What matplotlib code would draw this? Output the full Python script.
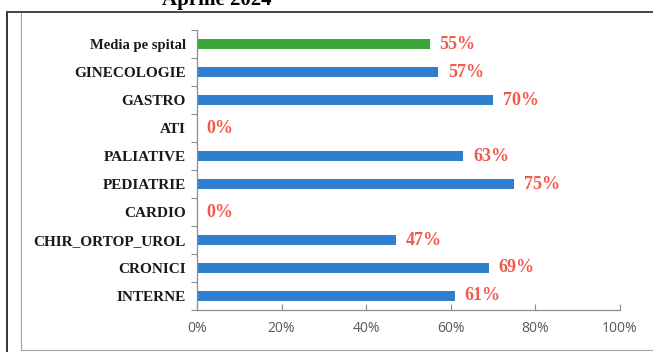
import matplotlib
matplotlib.use("Agg")
import matplotlib.pyplot as plt
from matplotlib.ticker import PercentFormatter

# ── Date ─────────────────────────────────────────────────────────────────
sectii = ["INTERNE", "CRONICI", "CHIR_ORTOP_UROL", "CARDIO", "PEDIATRIE",
          "PALIATIVE", "ATI", "GASTRO", "GINECOLOGIE", "Media pe spital"]
procente = [61, 69, 47, 0, 75, 63, 0, 70, 57, 55]
titlu = "Aprilie 2024"
x_ticks = [0, 20, 40, 60, 80, 100]

W, H = 653, 352
fig = plt.figure(figsize=(W / 100, H / 100), dpi=100)
fig.patch.set_facecolor("white")

# chenarul exterior
fig.add_artist(plt.Line2D([7 / W, 7 / W], [0, 1 - 12 / H], color="#333333", lw=1.4))
fig.add_artist(plt.Line2D([7 / W, 1], [1 - 12 / H, 1 - 12 / H], color="#444444", lw=1.4))
fig.add_artist(plt.Line2D([21 / W, 21 / W], [2 / H, 1 - 13 / H], color="#a0a0a0", lw=0.8))
fig.add_artist(plt.Line2D([21 / W, 1], [2 / H, 2 / H], color="#a0a0a0", lw=0.8))

fig.text(217 / W, 1 - 5 / H, titlu, ha="center", va="baseline",
         family="Liberation Serif", weight="bold", fontsize=15)

ax = fig.add_axes([197 / W, 1 - 310 / H, (620 - 197) / W, (310 - 30) / H])

culori = ["#2f7fce"] * (len(sectii) - 1) + ["#3ba73b"]
y = range(len(sectii))
ax.barh(y, procente, height=0.38, color=culori)

for yi, v in zip(y, procente):
    ax.annotate(f"{v}%", (v, yi), xytext=(7, 0), textcoords="offset points",
                va="center", ha="left", color="#f05a4c",
                family="Liberation Serif", weight="bold", fontsize=13)

ax.set_xlim(0, 100)
ax.set_ylim(-0.5, len(sectii) - 0.5)
ax.set_xticks(x_ticks)
ax.xaxis.set_major_formatter(PercentFormatter(decimals=0))
ax.set_yticks([i + 0.5 for i in range(-1, len(sectii))])
ax.set_yticklabels([])
ax.set_yticks(list(y), minor=True)
ax.set_yticklabels(sectii, minor=True)

for lbl in ax.get_yticklabels(minor=True):
    lbl.set_family("Liberation Serif")
    lbl.set_weight("bold")
    lbl.set_fontsize(11 if lbl.get_text() != "Media pe spital" else 10.5)
    lbl.set_color("#1a1a1a")

ax.tick_params(axis="y", which="major", direction="out", length=4, color="#8c8c8c")
ax.tick_params(axis="y", which="minor", length=0, pad=8)
ax.tick_params(axis="x", direction="in", length=4, color="#8c8c8c",
               labelcolor="#595959", labelsize=10, pad=8)
for lbl in ax.get_xticklabels():
    lbl.set_family("Open Sans")

for s in ["top", "right"]:
    ax.spines[s].set_visible(False)
for s in ["left", "bottom"]:
    ax.spines[s].set_color("#8c8c8c")
    ax.spines[s].set_linewidth(0.9)

fig.savefig("out.png", dpi=100)
